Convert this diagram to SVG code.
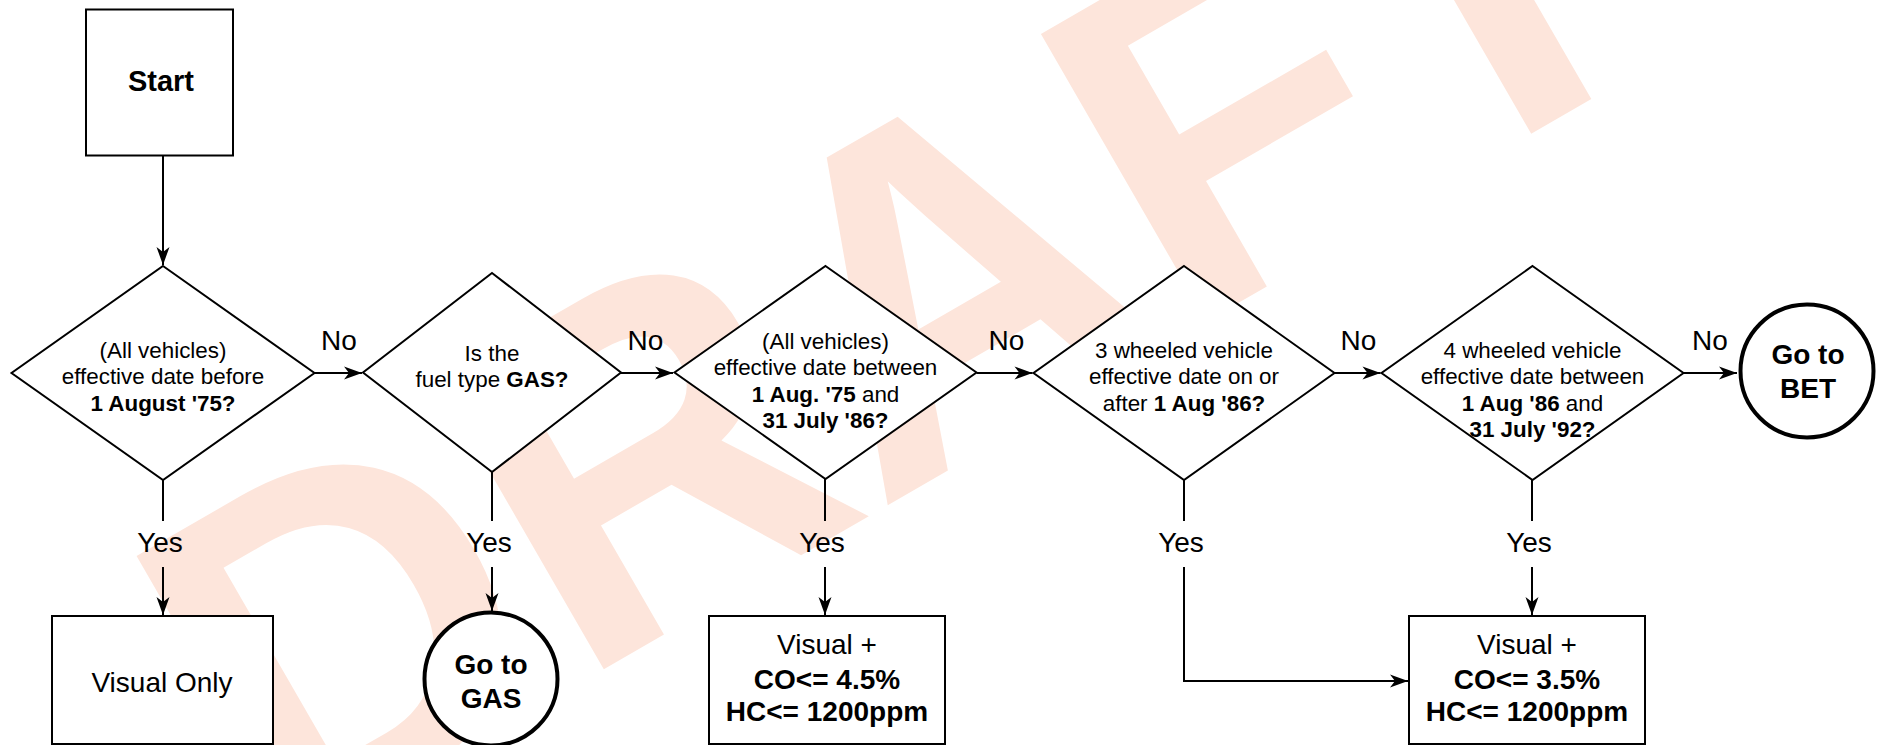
<svg xmlns="http://www.w3.org/2000/svg" width="1882" height="745" viewBox="0 0 1882 745">
<defs>
<style>
.wm{font-family:"Liberation Sans",Arial,sans-serif;font-weight:bold;font-size:482px;fill:#FDE5DB;}
.shape{fill:#fff;stroke:#000;stroke-width:2;}
.term{fill:#fff;stroke:#000;stroke-width:4;}
.t{font-family:"Liberation Sans",Arial,sans-serif;font-size:22.4px;fill:#000;text-anchor:middle;}
.lbl{font-family:"Liberation Sans",Arial,sans-serif;font-size:28px;fill:#000;text-anchor:middle;}
.big{font-family:"Liberation Sans",Arial,sans-serif;font-size:28px;fill:#000;text-anchor:middle;}
.b{font-weight:bold;}
.conn{fill:none;stroke:#000;stroke-width:2;}
</style>
<marker id="arr" markerUnits="userSpaceOnUse" markerWidth="20" markerHeight="16" viewBox="-19 -8 20 16" refX="0" refY="0" orient="auto">
<path d="M0,0 L-18,-6.5 L-13,0 L-18,6.5 Z" fill="#000"/>
</marker>
</defs>
<rect width="1882" height="745" fill="#fff"/>
<text class="wm" text-anchor="middle" transform="translate(981.6,451.1) rotate(-30)">DRAFT</text>

<g id="connectors">
<line class="conn" x1="163" y1="156" x2="163" y2="265" marker-end="url(#arr)"/>
<line class="conn" x1="314.5" y1="373" x2="362" y2="373" marker-end="url(#arr)"/>
<line class="conn" x1="621" y1="373" x2="673" y2="373" marker-end="url(#arr)"/>
<line class="conn" x1="976.5" y1="373" x2="1032.5" y2="373" marker-end="url(#arr)"/>
<line class="conn" x1="1334.5" y1="373" x2="1380.5" y2="373" marker-end="url(#arr)"/>
<line class="conn" x1="1683.5" y1="373" x2="1737" y2="373" marker-end="url(#arr)"/>
<line class="conn" x1="163" y1="480" x2="163" y2="521"/>
<line class="conn" x1="163" y1="567" x2="163" y2="615" marker-end="url(#arr)"/>
<line class="conn" x1="492" y1="472" x2="492" y2="521"/>
<line class="conn" x1="492" y1="567" x2="492" y2="611" marker-end="url(#arr)"/>
<line class="conn" x1="825" y1="479" x2="825" y2="521"/>
<line class="conn" x1="825" y1="567" x2="825" y2="615" marker-end="url(#arr)"/>
<line class="conn" x1="1184" y1="480" x2="1184" y2="521"/>
<path class="conn" d="M1184,567 L1184,681 L1408,681" marker-end="url(#arr)"/>
<line class="conn" x1="1532" y1="480" x2="1532" y2="521"/>
<line class="conn" x1="1532" y1="567" x2="1532" y2="615" marker-end="url(#arr)"/>
<text class="lbl" x="339" y="350">No</text>
<text class="lbl" x="645.5" y="350">No</text>
<text class="lbl" x="1006.5" y="350">No</text>
<text class="lbl" x="1358.5" y="350">No</text>
<text class="lbl" x="1710" y="350">No</text>
<text class="lbl" x="160" y="552">Yes</text>
<text class="lbl" x="489" y="552">Yes</text>
<text class="lbl" x="822" y="552">Yes</text>
<text class="lbl" x="1181" y="552">Yes</text>
<text class="lbl" x="1529" y="552">Yes</text>
</g>

<g id="start">
<rect class="shape" x="86" y="9.5" width="147" height="146"/>
<text class="big b" x="161" y="91" style="font-size:29px">Start</text>
</g>

<g id="d1">
<polygon class="shape" points="163,266 314.5,373 163,480 11.5,373"/>
<text class="t" x="163" y="357.5">(All vehicles)</text>
<text class="t" x="163" y="384">effective date before</text>
<text class="t b" x="163" y="410.5">1 August '75?</text>
</g>

<g id="d2">
<polygon class="shape" points="492,273 621,372.5 492,472 363,372.5"/>
<text class="t" x="492" y="361">Is the</text>
<text class="t" x="492" y="387">fuel type <tspan class="b">GAS?</tspan></text>
</g>

<g id="d3">
<polygon class="shape" points="825.5,266 976.5,372.5 825.5,479 674.5,372.5"/>
<text class="t" x="825.5" y="348.5">(All vehicles)</text>
<text class="t" x="825.5" y="375">effective date between</text>
<text class="t" x="825.5" y="401.5"><tspan class="b">1 Aug. '75</tspan> and</text>
<text class="t b" x="825.5" y="428">31 July '86?</text>
</g>

<g id="d4">
<polygon class="shape" points="1184,266 1334.5,373 1184,480 1033.5,373"/>
<text class="t" x="1184" y="357.5">3 wheeled vehicle</text>
<text class="t" x="1184" y="384">effective date on or</text>
<text class="t" x="1184" y="410.5">after <tspan class="b">1 Aug '86?</tspan></text>
</g>

<g id="d5">
<polygon class="shape" points="1532.5,266 1683.5,373 1532.5,480 1381.5,373"/>
<text class="t" x="1532.5" y="357.5">4 wheeled vehicle</text>
<text class="t" x="1532.5" y="384">effective date between</text>
<text class="t" x="1532.5" y="410.5"><tspan class="b">1 Aug '86</tspan> and</text>
<text class="t b" x="1532.5" y="437">31 July '92?</text>
</g>

<g id="bet">
<circle class="term" cx="1807" cy="371" r="66.5"/>
<text class="big b" x="1808" y="364">Go to</text>
<text class="big b" x="1808" y="397.5">BET</text>
</g>

<g id="visual-only">
<rect class="shape" x="52" y="616" width="221" height="128"/>
<text class="big" x="162" y="692">Visual Only</text>
</g>

<g id="gas">
<circle class="term" cx="491" cy="679" r="66.5"/>
<text class="big b" x="491" y="673.5">Go to</text>
<text class="big b" x="491" y="707.5">GAS</text>
</g>

<g id="visual-45">
<rect class="shape" x="709" y="616" width="236" height="128"/>
<text class="big" x="827" y="653.5">Visual +</text>
<text class="big b" x="827" y="688.5">CO&lt;= 4.5%</text>
<text class="big b" x="827" y="721">HC&lt;= 1200ppm</text>
</g>

<g id="visual-35">
<rect class="shape" x="1409" y="616" width="236" height="128"/>
<text class="big" x="1527" y="653.5">Visual +</text>
<text class="big b" x="1527" y="688.5">CO&lt;= 3.5%</text>
<text class="big b" x="1527" y="721">HC&lt;= 1200ppm</text>
</g>
</svg>
